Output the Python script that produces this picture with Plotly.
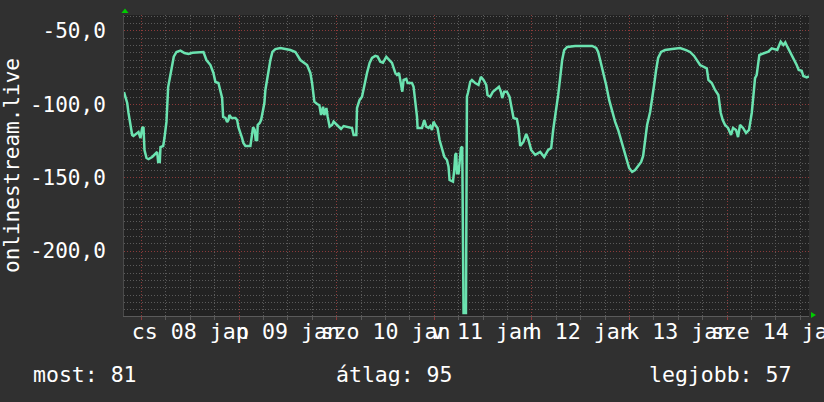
import plotly.graph_objects as go
import pandas as pd

# ---- data ----
hours_from_jan8 = [
    -4.30, -3.51, -3.19, -2.70, -2.29, -1.97, -1.06, -0.74, -0.25, 0.17,
    0.49, 0.74, 1.23, 1.72, 2.63, 3.44, 3.86, 4.10, 4.50, 4.67,
    5.33, 5.65, 6.14, 6.56, 7.13, 7.54, 7.94, 8.60, 9.58, 10.57,
    11.55, 12.53, 14.50, 15.24, 15.97, 16.96, 17.69, 18.18, 18.92, 19.41,
    19.83, 20.08, 20.64, 21.06, 21.38, 21.62, 22.12, 23.10, 23.52, 23.84,
    24.33, 24.74, 25.06, 25.56, 26.78, 27.20, 27.45, 27.84, 28.09, 28.43,
    28.58, 29.07, 29.41, 29.90, 30.22, 30.47, 30.89, 31.13, 31.70, 32.19,
    32.93, 34.16, 35.39, 36.61, 37.84, 39.07, 40.72, 41.53, 41.95, 42.51,
    43.18, 43.74, 44.16, 44.65, 44.97, 45.46, 45.78, 46.27, 46.86, 47.25,
    48.09, 49.07, 49.71, 50.55, 51.77, 52.17, 52.83, 53.00, 53.64, 54.23,
    54.62, 55.46, 56.10, 56.69, 57.50, 58.07, 58.73, 59.39, 60.20, 61.01,
    61.60, 62.42, 62.83, 63.32, 63.64, 64.14, 64.46, 65.12, 65.44, 66.52,
    66.91, 67.33, 67.75, 67.90, 68.98, 69.54, 70.03, 70.60, 71.02, 71.43,
    71.83, 72.25, 72.81, 73.30, 73.89, 74.46, 75.12, 75.51, 75.76, 76.60,
    76.91, 77.16, 77.40, 77.58, 77.97, 78.22, 78.56, 78.88, 79.20, 79.79,
    80.03, 80.28, 80.85, 81.26, 82.07, 82.88, 83.47, 84.11, 84.78, 85.10,
    85.76, 86.42, 87.41, 87.90, 88.39, 88.71, 89.20, 89.86, 90.50, 91.09,
    91.49, 92.32, 92.72, 93.13, 93.94, 94.61, 95.17, 95.83, 96.82, 98.05,
    99.03, 100.01, 100.75, 101.24, 101.98, 102.47, 102.96, 103.45, 103.95, 104.68,
    106.65, 109.11, 110.83, 111.81, 112.30, 112.79, 113.53, 114.27, 115.00, 115.74,
    116.48, 117.22, 117.96, 118.69, 119.43, 119.92, 120.66, 121.39, 122.13, 122.87,
    123.36, 123.85, 124.34, 125.08, 125.57, 126.06, 126.55, 127.05, 127.78, 128.76,
    130.48, 132.45, 133.92, 134.91, 135.89, 136.63, 137.37, 139.01, 139.41, 140.24,
    141.05, 141.86, 142.45, 142.94, 143.51, 144.24, 144.98, 145.47, 146.21, 146.70,
    147.19, 147.93, 148.67, 149.40, 150.07, 150.46, 150.88, 151.29, 151.93, 152.52,
    153.33, 154.15, 154.98, 155.79, 156.36, 156.85, 157.19, 157.83, 158.32, 158.82,
    159.48, 160.29, 161.12, 161.62, 162.35, 162.75, 163.58, 164.15,
]
signal_values = [
    -91.6, -99.1, -105.9, -114.1, -120.9, -121.6, -119.5, -118.9, -123.0, -116.1,
    -115.5, -131.1, -136.6, -137.3, -135.9, -133.2, -132.5, -139.3, -139.3, -129.1,
    -128.4, -123.0, -112.0, -88.2, -80.0, -71.8, -67.5, -64.3, -63.4, -65.0,
    -65.7, -64.8, -64.1, -64.3, -69.8, -73.2, -78.6, -84.8, -85.5, -90.2,
    -95.7, -108.6, -109.3, -112.0, -110.7, -107.3, -109.3, -109.3, -110.7, -115.5,
    -118.9, -123.0, -126.4, -128.4, -128.4, -119.5, -115.5, -117.5, -124.3, -124.3,
    -114.1, -112.7, -110.7, -103.9, -99.1, -90.2, -83.4, -76.6, -69.8, -64.3,
    -62.3, -61.6, -62.3, -63.0, -64.3, -69.8, -73.2, -78.6, -85.5, -98.2,
    -99.8, -100.5, -107.3, -101.6, -107.3, -102.5, -108.4, -115.2, -114.1, -111.8,
    -114.1, -116.8, -114.8, -115.5, -116.1, -120.9, -120.9, -102.5, -97.0, -94.8,
    -88.9, -78.6, -71.8, -68.4, -67.0, -67.5, -70.9, -71.6, -67.7, -69.8,
    -71.8, -78.6, -80.0, -78.6, -84.6, -91.4, -83.4, -82.7, -85.5, -85.5,
    -88.0, -97.0, -108.4, -116.1, -116.1, -110.7, -115.2, -116.1, -114.8, -117.5,
    -111.8, -114.1, -116.1, -124.3, -131.1, -135.7, -138.0, -142.5, -151.6, -152.7,
    -144.8, -134.5, -133.2, -147.0, -147.0, -138.0, -129.8, -128.9, -242.3, -242.3,
    -94.8, -92.3, -84.6, -83.4, -85.5, -86.8, -81.2, -83.4, -86.8, -93.6,
    -94.8, -91.4, -88.9, -88.0, -91.4, -95.7, -91.4, -91.4, -94.8, -105.0,
    -109.3, -110.0, -116.1, -128.4, -125.5, -120.2, -124.3, -131.1, -134.5, -132.5,
    -135.9, -131.1, -129.8, -117.5, -103.9, -93.6, -82.0, -69.8, -63.0, -60.9,
    -60.2, -60.2, -60.2, -61.6, -64.3, -69.8, -78.0, -86.8, -97.0, -105.2,
    -112.0, -117.5, -124.3, -131.1, -138.0, -143.4, -146.1, -144.8, -142.0, -139.3,
    -135.2, -124.3, -114.1, -105.2, -97.0, -86.8, -76.6, -68.4, -64.3, -63.0,
    -62.3, -61.6, -63.0, -64.3, -67.0, -69.8, -73.2, -75.4, -83.4, -85.5,
    -90.2, -93.6, -105.9, -110.7, -114.1, -116.1, -120.9, -116.1, -117.5, -122.3,
    -114.1, -116.1, -119.5, -117.5, -105.9, -94.8, -82.2, -80.0, -66.4, -65.7,
    -64.8, -64.1, -61.8, -62.5, -63.0, -59.5, -57.3, -59.5, -57.8, -60.7,
    -64.1, -68.6, -73.2, -76.6, -77.1, -80.7, -81.6, -81.0,
]

day_labels = ["cs 08 jan", "p 09 jan", "szo 10 jan", "v 11 jan",
              "h 12 jan", "k 13 jan", "sze 14 jan"]
y_tick_values = [-200, -150, -100, -50]
y_tick_labels = ["-200,0", "-150,0", "-100,0", "-50,0"]
series_name = "onlinestream.live"
stat_names = ["most", "átlag", "legjobb"]
stat_values = [81, 95, 57]

x_start_hours = -4.30
x_end_hours = 164.15
y_range = [-244.3, -39.1]

# ---- build ----
base = pd.Timestamp("2015-01-08 00:00")
times = [base + pd.Timedelta(hours=h) for h in hours_from_jan8]
x_range = [base + pd.Timedelta(hours=x_start_hours), base + pd.Timedelta(hours=x_end_hours)]
label_times = [base + pd.Timedelta(hours=12 + 24 * i) for i in range(len(day_labels))]

PAPER = "#303030"
PLOT = "#222222"
MINOR = "#5a5a5a"
MAJOR = "#8c3a3a"
LINE = "#6be3b0"
TXT = "#ffffff"
FONT = "DejaVu Sans Mono"
DASH = "1px,2px"

fig = go.Figure()
fig.add_trace(go.Scatter(x=times, y=signal_values, mode="lines",
                         line=dict(color=LINE, width=2.5), showlegend=False,
                         hoverinfo="skip"))
# helper on label axis (invisible)
fig.add_trace(go.Scatter(x=[label_times[0]], y=[signal_values[0]], xaxis="x2",
                         mode="markers", marker=dict(opacity=0), showlegend=False,
                         hoverinfo="skip"))

fig.update_layout(
    width=824, height=402,
    margin=dict(l=124, r=15, t=15, b=86, pad=0, autoexpand=False),
    paper_bgcolor=PAPER, plot_bgcolor=PLOT,
    font=dict(family=FONT, color=TXT, size=21),
    showlegend=False,
    xaxis=dict(
        type="date", range=x_range, tick0="2015-01-08", dtick=86400000,
        automargin=False,
        showgrid=True, gridcolor=MAJOR, griddash=DASH, gridwidth=1,
        showticklabels=False, ticks="outside", ticklen=3, tickcolor=MAJOR,
        showline=True, linecolor="#5a5a5a", linewidth=1,
        zeroline=False,
        minor=dict(dtick=6 * 3600000, tick0="2015-01-08", showgrid=True,
                   gridcolor=MINOR, griddash=DASH, gridwidth=1,
                   ticks="outside", ticklen=3, tickcolor=MINOR),
    ),
    xaxis2=dict(
        type="date", range=x_range, overlaying="x", side="bottom",
        automargin=False,
        tickmode="array", tickvals=label_times, ticktext=day_labels,
        showgrid=False, ticks="", tickangle=0, ticklabeloverflow="allow",
        tickfont=dict(family=FONT, size=21.6, color=TXT),
        ticklabelstandoff=0, zeroline=False, showline=False,
    ),
    yaxis=dict(
        range=y_range, tickmode="array", tickvals=y_tick_values,
        ticktext=y_tick_labels, automargin=False,
        showgrid=True, gridcolor=MAJOR, griddash=DASH, gridwidth=1,
        zeroline=False, ticks="", ticklabelstandoff=13,
        tickfont=dict(family=FONT, size=21, color=TXT),
        showline=True, linecolor="#4a4a4a", linewidth=1,
        minor=dict(dtick=5, tick0=0, showgrid=True, gridcolor=MINOR,
                   griddash=DASH, gridwidth=1),
        title=dict(text=series_name, font=dict(family=FONT, size=21, color=TXT),
                   standoff=10),
    ),
)

# arrows at the axis ends
fig.add_shape(type="path", xref="paper", yref="paper", xsizemode="pixel",
              ysizemode="pixel", xanchor=0, yanchor=1,
              path="M -2.5,2 L 4.5,2 L 1,6.5 Z", fillcolor="#00cc00",
              line=dict(width=0))
fig.add_shape(type="path", xref="paper", yref="paper", xsizemode="pixel",
              ysizemode="pixel", xanchor=1, yanchor=0,
              path="M 2,4 L 2,-2 L 7,1 Z", fillcolor="#00cc00",
              line=dict(width=0))

# summary line
stat_texts = [f"{n}: {v}" for n, v in zip(stat_names, stat_values)]
stat_x = [-0.1358, 0.3942, 0.9767]
stat_anchor = ["left", "center", "right"]
for t, xx, anc in zip(stat_texts, stat_x, stat_anchor):
    fig.add_annotation(text=t, xref="paper", yref="paper", x=xx, y=-0.1927,
                       xanchor=anc, yanchor="middle", showarrow=False,
                       font=dict(family=FONT, size=21.5, color=TXT))

fig.write_html(
    "out.html",
    config={"displayModeBar": False, "staticPlot": True},
    post_script="document.body.style.margin='0px';"
                "document.body.style.background='#303030';",
)
